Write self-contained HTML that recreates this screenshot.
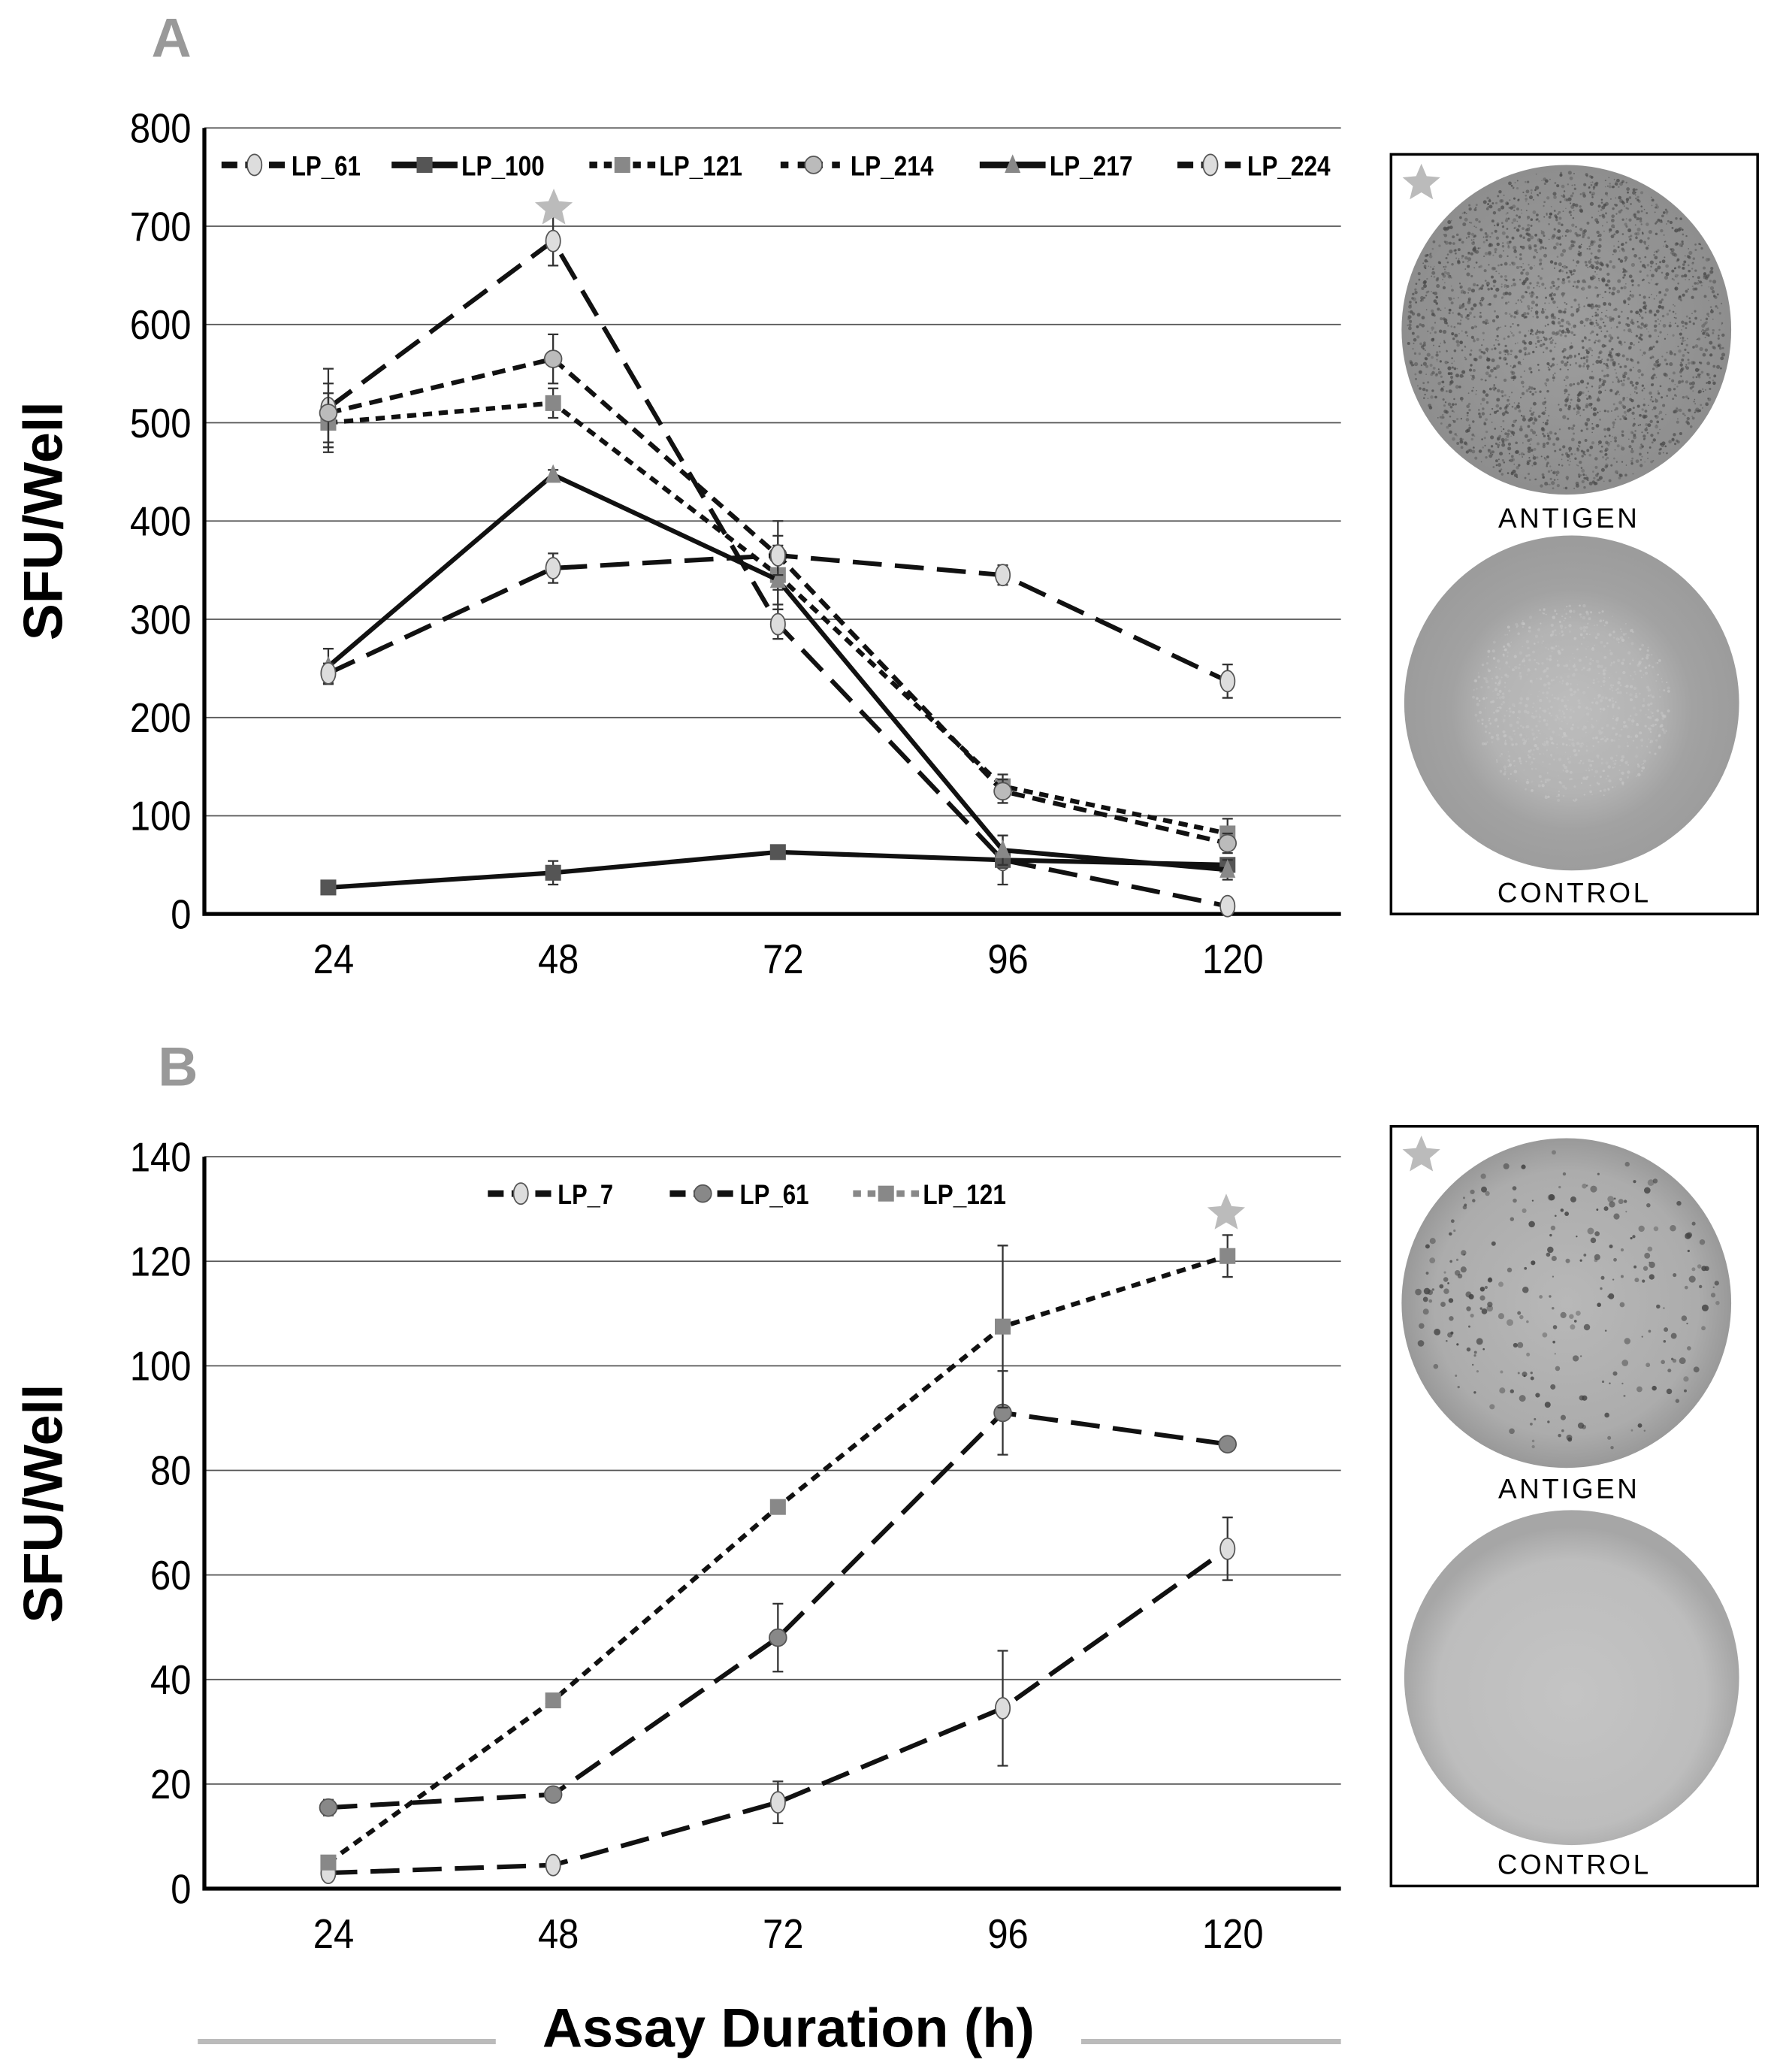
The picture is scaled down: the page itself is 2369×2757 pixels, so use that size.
<!DOCTYPE html>
<html><head><meta charset="utf-8"><style>
html,body{margin:0;padding:0;background:#fff}
svg{display:block}
text{font-family:"Liberation Sans",sans-serif}
</style></head><body>
<svg id="root" width="2369" height="2757" viewBox="0 0 1350 1571" xmlns="http://www.w3.org/2000/svg">
<defs>
<radialGradient id="gA" cx="50%" cy="50%" r="50%"><stop offset="0" stop-color="#9e9e9e"/><stop offset="1" stop-color="#8e8e8e"/></radialGradient>
<radialGradient id="gC" cx="50%" cy="52%" r="50%"><stop offset="0" stop-color="#bdbdbd"/><stop offset="0.5" stop-color="#b3b3b3"/><stop offset="0.72" stop-color="#a2a2a2"/><stop offset="1" stop-color="#9c9c9c"/></radialGradient>
<radialGradient id="gBA" cx="50%" cy="50%" r="50%"><stop offset="0" stop-color="#b8b8b8"/><stop offset="0.8" stop-color="#acacac"/><stop offset="1" stop-color="#999"/></radialGradient>
<radialGradient id="gBC" cx="50%" cy="55%" r="50%"><stop offset="0" stop-color="#c4c4c4"/><stop offset="0.8" stop-color="#bdbdbd"/><stop offset="1" stop-color="#a6a6a6"/></radialGradient>
</defs>
<g id="chartA"></g>
<g id="chartB"></g>
<g id="photos"></g>
<text x="130" y="43" font-size="42" font-weight="bold" fill="#999" text-anchor="middle">A</text>
<text x="135" y="823" font-size="42" font-weight="bold" fill="#999" text-anchor="middle">B</text>
<text transform="translate(47,395) rotate(-90)" font-size="42" font-weight="bold" text-anchor="middle">SFU/Well</text>
<text transform="translate(47,1140) rotate(-90)" font-size="42" font-weight="bold" text-anchor="middle">SFU/Well</text>
<text x="598" y="1552" font-size="42" font-weight="bold" text-anchor="middle">Assay Duration (h)</text>
<line x1="150" y1="1548" x2="376" y2="1548" stroke="#bbb" stroke-width="4"/>
<line x1="820" y1="1548" x2="1017" y2="1548" stroke="#bbb" stroke-width="4"/>
</svg>
<script>
const NS="http://www.w3.org/2000/svg";
const xCats=[24,48,72,96,120];
// Panel A data
const aTicks=[0,100,200,300,400,500,600,700,800];
const aLP61=[515,685,295,55,8];
const aLP61err=[40,25,15,25,5];
const aLP100=[27,42,63,55,50];
const aLP100err=[3,12,6,8,5];
const aLP121=[500,520,345,130,82];
const aLP121err=[30,15,30,12,15];
const aLP214=[510,565,365,125,72];
const aLP214err=[30,25,35,12,10];
const aLP217=[252,447,340,65,45];
const aLP217err=[18,5,30,15,10];
const aLP224=[245,352,365,345,237];
const aLP224err=[10,15,20,10,17];
// Panel B data
const bTicks=[0,20,40,60,80,100,120,140];
const bLP7=[3,4.5,16.5,34.5,65];
const bLP7err=[1,1,4,11,6];
const bLP61=[15.5,18,48,91,85];
const bLP61err=[1.5,1,6.5,8,1];
const bLP121=[5,36,73,107.5,121];
const bLP121err=[1,1,1,15.5,4];

function el(tag,attrs,parent){const e=document.createElementNS(NS,tag);for(const k in attrs)e.setAttribute(k,attrs[k]);parent.appendChild(e);return e;}
function xPos(i){return 249+i*170.5;}

function drawChart(g,ticks,yMax,yTop,yBot,series,legendY){
  const yS=v=>yBot-(v/yMax)*(yBot-yTop);
  ticks.forEach(t=>{
    const y=yS(t);
    if(t>0){const l=el('line',{x1:155,x2:1017,y1:y,y2:y,stroke:'#555','stroke-width':1},g);
      
      }
    const s=String(t);
    const tl=el('text',{x:145,y:y+11,'font-size':31,'text-anchor':'end',textLength:s.length*15.5,lengthAdjust:'spacingAndGlyphs'},g);tl.textContent=t;
    
    
  });
  xCats.forEach((c,i)=>{
    const s=String(c);
    const tl=el('text',{x:xPos(i)+4,y:yBot+45,'font-size':31,'text-anchor':'middle',textLength:s.length*15.5,lengthAdjust:'spacingAndGlyphs'},g);tl.textContent=c;
    
    
  });
  const ax=el('path',{d:`M155 ${yTop} V${yBot} H1017`,stroke:'#000','stroke-width':3,fill:'none'},g);
  
  
  series.forEach(s=>{
    const sg=el('g',{},g);
    
    
    const pts=s.vals.map((v,i)=>[xPos(i),yS(v)]);
    el('polyline',{points:pts.map(p=>p.join(',')).join(' '),fill:'none',stroke:'#111','stroke-width':3.5,'stroke-dasharray':s.dash},sg);
    s.vals.forEach((v,i)=>{
      const x=xPos(i),e=s.err[i];
      el('path',{d:`M${x} ${yS(v+e)}V${yS(v-e)}M${x-4} ${yS(v+e)}h8M${x-4} ${yS(v-e)}h8`,stroke:'#333','stroke-width':1.3,fill:'none'},sg);
      const m=marker(s.mk,x,yS(v),s.fill,sg);
      
      
    });
  });
  series.forEach(s=>{
    const lg=el('g',{},g);
    
    
    el('line',{x1:s.lx,x2:s.lx+50,y1:legendY,y2:legendY,stroke:s.name==='LP_121'&&legendY>800?'#888':'#111','stroke-width':5,'stroke-dasharray':s.ldash||''},lg);
    marker(s.mk,s.lx+25,legendY,s.fill,lg);
    const t=el('text',{x:s.lx+53,y:legendY+8,'font-size':21,'font-weight':'bold',textLength:s.name.length*10.5,lengthAdjust:'spacingAndGlyphs'},lg);t.textContent=s.name;
  });
}
function marker(type,x,y,fill,p){
  if(type==='sq')return el('rect',{x:x-6,y:y-6,width:12,height:12,fill:fill},p);
  if(type==='tri')return el('path',{d:`M${x} ${y-8}L${x+6} ${y+6}L${x-6} ${y+6}Z`,fill:fill},p);
  if(type==='ell')return el('ellipse',{cx:x,cy:y,rx:5.5,ry:8,fill:fill,stroke:'#555','stroke-width':1},p);
  return el('ellipse',{cx:x,cy:y,rx:6.5,ry:6.5,fill:fill,stroke:'#555','stroke-width':1},p);
}
drawChart(document.getElementById('chartA'),aTicks,800,97,693,[
 {name:'LP_61',vals:aLP61,err:aLP61err,dash:'22 10',mk:'ell',fill:'#ddd',lx:168,ldash:'12 6'},
 {name:'LP_100',vals:aLP100,err:aLP100err,dash:'',mk:'sq',fill:'#555',lx:297},
 {name:'LP_121',vals:aLP121,err:aLP121err,dash:'7 5',mk:'sq',fill:'#888',lx:447,ldash:'6 5'},
 {name:'LP_214',vals:aLP214,err:aLP214err,dash:'10 6',mk:'c',fill:'#bbb',lx:592,ldash:'6 7'},
 {name:'LP_217',vals:aLP217,err:aLP217err,dash:'',mk:'tri',fill:'#888',lx:743},
 {name:'LP_224',vals:aLP224,err:aLP224err,dash:'22 10',mk:'ell',fill:'#ddd',lx:893,ldash:'12 6'}
],125);
drawChart(document.getElementById('chartB'),bTicks,140,877,1432,[
 {name:'LP_7',vals:bLP7,err:bLP7err,dash:'22 10',mk:'ell',fill:'#ddd',lx:370,ldash:'12 6'},
 {name:'LP_61',vals:bLP61,err:bLP61err,dash:'22 10',mk:'c',fill:'#888',lx:508,ldash:'12 6'},
 {name:'LP_121',vals:bLP121,err:bLP121err,dash:'7 5',mk:'sq',fill:'#888',lx:647,ldash:'6 5'}
],905);

const ph=document.getElementById('photos');
function star(x,y,r,p){let d='';for(let i=0;i<10;i++){const a=-Math.PI/2+i*Math.PI/5,rr=i%2?r*0.45:r;d+=(i?'L':'M')+(x+rr*Math.cos(a)).toFixed(1)+' '+(y+rr*Math.sin(a)).toFixed(1);}
 const s=el('path',{d:d+'Z',fill:'#bbb'},p);
 
 }
let seed=7;function rnd(){seed=(seed*16807)%2147483647;return seed/2147483647;}
function dots(cx,cy,r,n,col,minr,maxr,op){const g=el('g',{},ph);for(let i=0;i<n;i++){const a=rnd()*6.283,d=Math.sqrt(rnd())*r;el('circle',{cx:cx+d*Math.cos(a),cy:cy+d*Math.sin(a),r:minr+rnd()*maxr,fill:col,opacity:op*(0.4+rnd()*0.6)},g);}}
[[117,250,533,392,676,'gA','gC',true],[854,988,1272,1128,1413,'gBA','gBC',false]].forEach(([top,ay,cy,la,lc,ga,gc,dense],k)=>{
  const b=el('rect',{x:1055,y:top,width:278,height:576,fill:'#fff',stroke:'#000','stroke-width':2},ph);
  
  
  const c1=el('circle',{cx:1188,cy:ay,r:125,fill:'url(#'+ga+')'},ph);
  
  
  if(dense){dots(1188,ay,121,2600,'#4a4a4a',0.4,1.1,0.8);}else{dots(1188,ay,115,260,'#444',0.6,2,0.9);}
  const c2=el('circle',{cx:1192,cy:cy,r:127,fill:'url(#'+gc+')'},ph);
  
  
  if(dense){dots(1192,cy,75,900,'#c8c8c8',0.4,0.9,0.7);}
  const t1=el('text',{x:1190,y:la+8,'font-size':21,'text-anchor':'middle','letter-spacing':2},ph);t1.textContent='ANTIGEN';
  
  
  const t2=el('text',{x:1194,y:lc+8,'font-size':21,'text-anchor':'middle','letter-spacing':2},ph);t2.textContent='CONTROL';
  
  
  star(1078,top+22,15,ph);
});
star(420,158,15,ph);
star(930,920,15,ph);
</script>
</body></html>
